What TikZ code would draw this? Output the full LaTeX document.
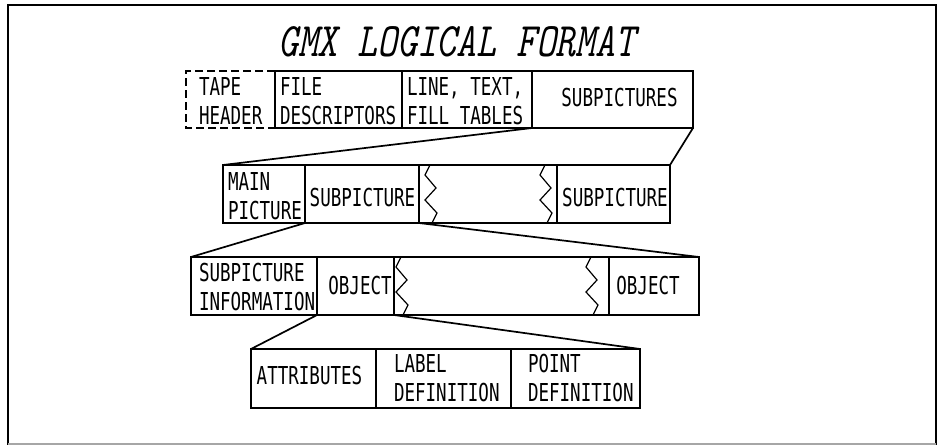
\documentclass[tikz,border=0pt]{standalone}
\usepackage{fontspec}
\newfontfamily\cadfont[FakeStretch=0.71]{DejaVu Sans Mono}
\tikzset{
  cell/.style={draw, line width=1.3pt, rectangle, inner sep=0pt, outer sep=0pt, anchor=north west},
  lbl/.style={font=\cadfont\fontsize{24.7pt}{29pt}\selectfont, inner sep=0pt, outer sep=0pt, align=left},
  link/.style={line width=1.7pt},
  zig/.pic={\draw[line width=1.2pt, line join=miter] (5,0) -- (0,10) -- (11,23) -- (0,35) -- (12,48) -- (7,58);}
}
\begin{document}
\begin{tikzpicture}[x=1pt, y=-1pt]
\useasboundingbox (0,0) rectangle (942,447);

% outer frame
\draw[line width=1.6pt, line cap=rect] (8,444) -- (8,5) -- (936,5) -- (936,444);
\draw[line width=1.2pt, black!35] (8,444) -- (936,444);

% title
\node[anchor=south west, inner sep=0pt] (title) at (278,57)
  {\resizebox{357pt}{30pt}{\ttfamily\itshape GMX LOGICAL FORMAT}};

% ---- file level
\node[cell, draw=none, minimum width=89pt, minimum height=57pt] (tape) at (186,71) {};
\draw[line width=1.3pt, dash pattern=on 8pt off 4pt]
  (tape.north east) -- (tape.north west) -- (tape.south west) -- (tape.south east);
\node[cell, minimum width=127pt, minimum height=57pt] (file) at (275,71) {};
\node[cell, minimum width=130pt, minimum height=57pt] (tables) at (402,71) {};
\node[cell, minimum width=161pt, minimum height=57pt] (subpics) at (532,71) {};

\node[lbl, anchor=north west] (tapetxt) at (199,77) {TAPE\\HEADER};
\node[lbl, anchor=north west] (filetxt) at (280,77) {FILE\\DESCRIPTORS};
\node[lbl, anchor=north west] (tabtxt) at (407,77) {LINE, TEXT,\\FILL TABLES};
\node[lbl] (subpicstxt) at (619.5,98) {SUBPICTURES};

% ---- subpicture level
\node[cell, minimum width=82pt, minimum height=58pt] (main) at (223,165) {};
\node[cell, minimum width=114pt, minimum height=58pt] (sub1) at (305,165) {};
\node[cell, minimum width=138pt, minimum height=58pt] (gap2) at (419,165) {};
\node[cell, minimum width=113pt, minimum height=58pt] (sub2) at (557,165) {};
\pic at ([xshift=6]gap2.north west) {zig};
\pic at ([xshift=-17]gap2.north east) {zig};

\node[lbl, anchor=north west] (maintxt) at (228,172) {MAIN\\PICTURE};
\node[lbl] (sub1txt) at (362.5,198) {SUBPICTURE};
\node[lbl] (sub2txt) at (615,198) {SUBPICTURE};

% ---- object level
\node[cell, minimum width=126pt, minimum height=58pt] (info) at (191,257) {};
\node[cell, minimum width=77pt, minimum height=58pt] (obj1) at (317,257) {};
\node[cell, minimum width=215pt, minimum height=58pt] (gap3) at (394,257) {};
\node[cell, minimum width=90pt, minimum height=58pt] (obj2) at (609,257) {};
\pic at ([xshift=2]gap3.north west) {zig};
\pic at ([xshift=-23]gap3.north east) {zig};

\node[lbl, anchor=north west] (infotxt) at (199,263) {SUBPICTURE\\INFORMATION};
\node[lbl] (obj1txt) at (360,286) {OBJECT};
\node[lbl] (obj2txt) at (648,286) {OBJECT};

% ---- object contents
\node[cell, minimum width=125pt, minimum height=59pt] (attr) at (251,349) {};
\node[cell, minimum width=135pt, minimum height=59pt] (label) at (376,349) {};
\node[cell, minimum width=129pt, minimum height=59pt] (point) at (511,349) {};

\node[lbl] (attrtxt) at (309.5,376) {ATTRIBUTES};
\node[lbl, anchor=north west] (labeltxt) at (394,354) {LABEL\\DEFINITION};
\node[lbl, anchor=north west] (pointtxt) at (528,354) {POINT\\DEFINITION};

% ---- expansion lines
\draw[link] (subpics.south west) -- (main.north west);
\draw[link] (subpics.south east) -- (sub2.north east);
\draw[link] (main.south east) -- (info.north west);
\draw[link] (sub1.south east) -- (obj2.north east);
\draw[link] (info.south east) -- (attr.north west);
\draw[link] (obj1.south east) -- (point.north east);
\end{tikzpicture}
\end{document}
